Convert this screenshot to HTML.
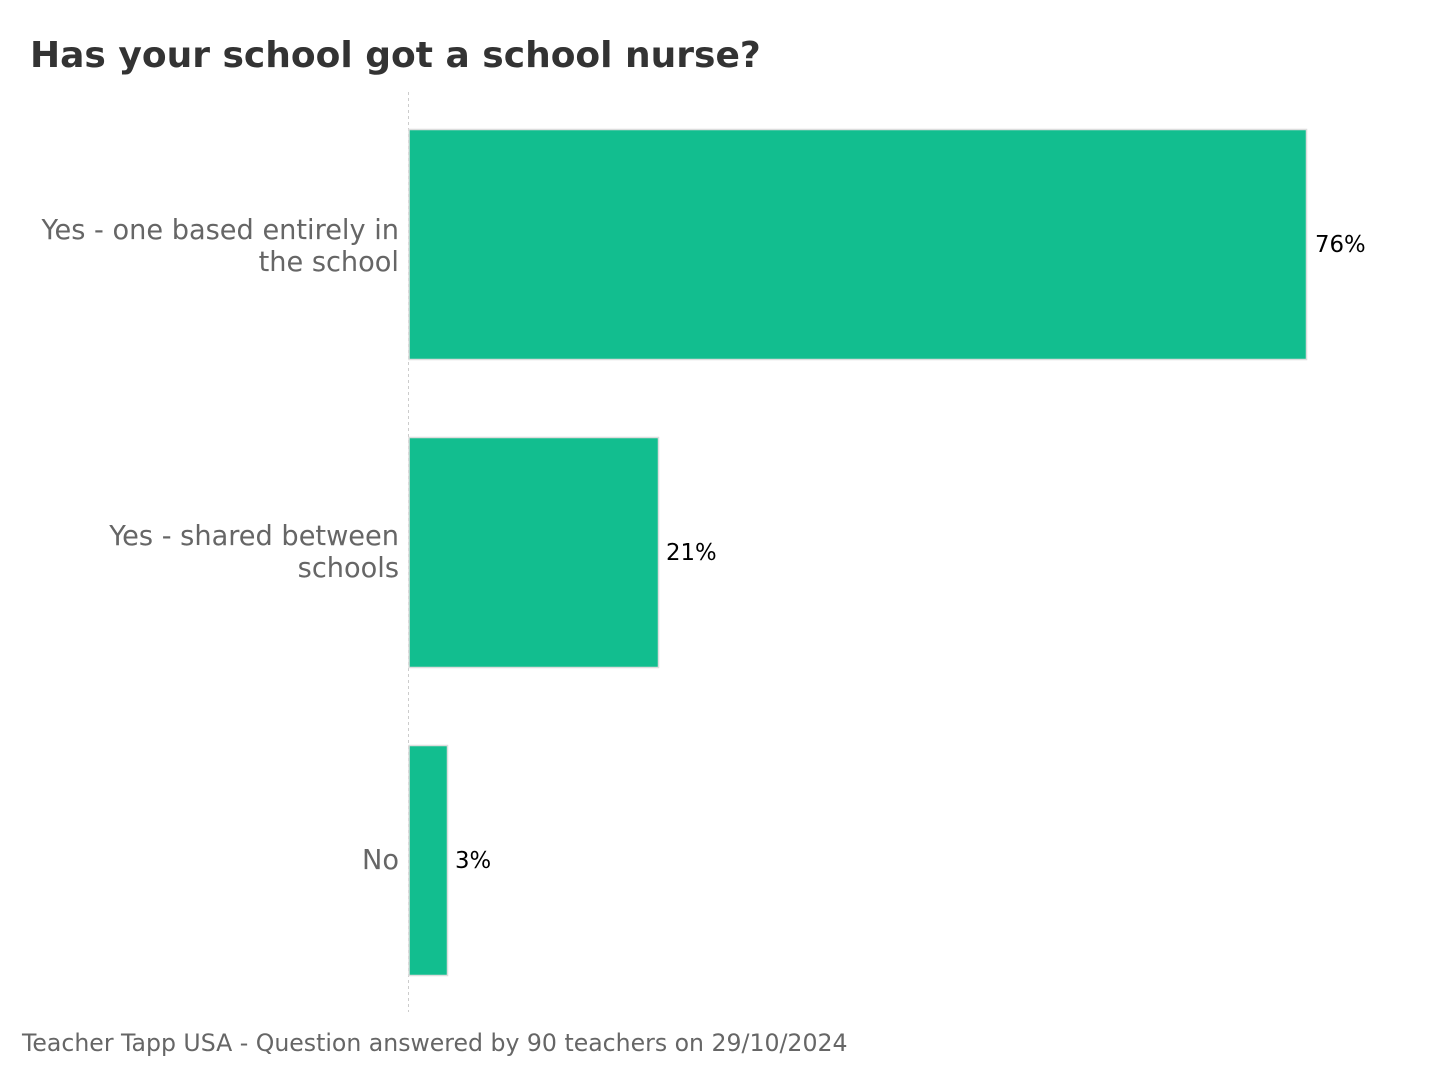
<!DOCTYPE html>
<html><head><meta charset="utf-8"><style>
html,body{margin:0;padding:0;background:#fff;width:1440px;height:1080px;overflow:hidden}
svg text{font-family:"DejaVu Sans","Liberation Sans",sans-serif}
</style></head><body>
<svg width="1440" height="1080" xmlns="http://www.w3.org/2000/svg">
<text x="30" y="67" font-size="36" font-weight="bold" fill="#333">Has your school got a school nurse?</text>
<line x1="408.5" y1="92" x2="408.5" y2="1012" stroke="#ccc" stroke-width="1" stroke-dasharray="3,3"/>
<rect x="409" y="129.5" width="897.5" height="230" fill="#12be8f" stroke="#ddd" stroke-width="1.5"/>
<rect x="409" y="437.5" width="249.5" height="230" fill="#12be8f" stroke="#ddd" stroke-width="1.5"/>
<rect x="409" y="745.5" width="38.5" height="230" fill="#12be8f" stroke="#ddd" stroke-width="1.5"/>
<g font-size="27.2" fill="#666" text-anchor="end">
<text x="399" y="239">Yes - one based entirely in</text>
<text x="399" y="271">the school</text>
<text x="399" y="545">Yes - shared between</text>
<text x="399" y="577">schools</text>
<text x="399" y="869">No</text>
</g>
<g font-size="22.8" fill="#000">
<text x="1315" y="252">76%</text>
<text x="666" y="560">21%</text>
<text x="455" y="868">3%</text>
</g>
<text x="22" y="1051" font-size="23.6" fill="#666">Teacher Tapp USA - Question answered by 90 teachers on 29/10/2024</text>
</svg>
</body></html>
